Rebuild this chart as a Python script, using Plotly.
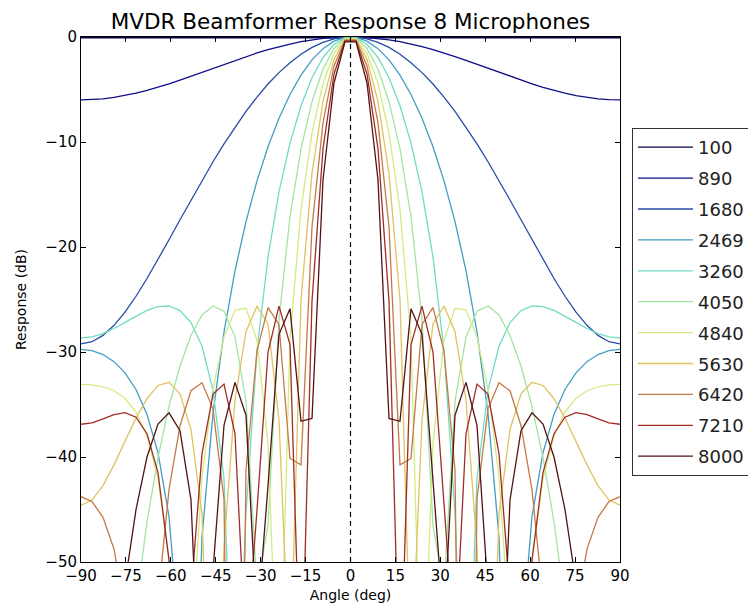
import plotly.graph_objects as go

# Steering angles (deg) at which the response was evaluated
ANGLES = [-90.0, -86.33, -82.65, -78.98, -75.31, -71.63, -67.96, -64.29, -60.61, -56.94,
          -53.27, -49.59, -45.92, -42.24, -38.57, -34.90, -31.22, -27.55, -23.88, -20.20,
          -16.53, -12.86, -9.18, -5.51, -1.84,
          1.84, 5.51, 9.18, 12.86, 16.53, 20.20, 23.88, 27.55, 31.22, 34.90,
          38.57, 42.24, 45.92, 49.59, 53.27, 56.94, 60.61, 64.29, 67.96, 71.63,
          75.31, 78.98, 82.65, 86.33, 90.0]

FREQ_LABELS = ["100", "890", "1680", "2469", "3260", "4050", "4840", "5630", "6420", "7210", "8000"]

# Response (dB) per frequency
R100 = [-0.07, -0.07, -0.07, -0.07, -0.07, -0.06, -0.06, -0.06, -0.05, -0.05, -0.05, -0.04, -0.04,
        -0.03, -0.03, -0.02, -0.02, -0.02, -0.01, -0.01, -0.01, 0.00, 0.00, 0.00, 0.00,
        0.00, 0.00, 0.00, 0.00, -0.01, -0.01, -0.01, -0.02, -0.02, -0.02, -0.03, -0.03, -0.04,
        -0.04, -0.05, -0.05, -0.05, -0.06, -0.06, -0.06, -0.07, -0.07, -0.07, -0.07, -0.07]
R890 = [-5.99, -5.97, -5.89, -5.76, -5.58, -5.35, -5.09, -4.79, -4.46, -4.11, -3.74, -3.36, -2.98,
        -2.60, -2.22, -1.86, -1.52, -1.21, -0.92, -0.67, -0.45, -0.28, -0.14, -0.05, -0.01,
        -0.01, -0.05, -0.14, -0.28, -0.45, -0.67, -0.92, -1.21, -1.52, -1.86, -2.22, -2.60, -2.98,
        -3.36, -3.74, -4.11, -4.46, -4.79, -5.09, -5.35, -5.58, -5.76, -5.89, -5.97, -5.99]
R1680 = [-29.23, -29.02, -28.42, -27.46, -26.20, -24.69, -23.00, -21.19, -19.31, -17.41, -15.52,
         -13.67, -11.88, -10.18, -8.58, -7.09, -5.72, -4.48, -3.39, -2.46, -1.64, -0.99, -0.51,
         -0.18, -0.02,
         -0.02, -0.18, -0.51, -0.99, -1.64, -2.46, -3.39, -4.48, -5.72, -7.09, -8.58, -10.18,
         -11.88, -13.67, -15.52, -17.41, -19.31, -21.19, -23.00, -24.69, -26.20, -27.46, -28.42,
         -29.02, -29.23]
R2469 = [-29.75, -29.87, -30.24, -30.92, -31.98, -33.57, -35.94, -39.59, -45.67, -58.4, -78.9,
         -47.62, -35.83, -28.10, -22.26, -17.58, -13.70, -10.45, -7.73, -5.47, -3.63, -2.18,
         -1.11, -0.40, -0.04,
         -0.04, -0.40, -1.11, -2.18, -3.63, -5.47, -7.73, -10.45, -13.70, -17.58, -22.26, -28.10,
         -35.83, -47.62, -78.9, -58.4, -45.67, -39.59, -35.94, -33.57, -31.98, -30.92, -30.24,
         -29.87, -29.75]
R3260 = [-28.66, -28.55, -28.24, -27.76, -27.18, -26.57, -26.03, -25.67, -25.62, -26.05, -27.20,
         -29.46, -33.66, -42.05, -71.3, -45.37, -29.83, -20.96, -14.76, -10.10, -6.55, -3.88,
         -1.95, -0.69, -0.08,
         -0.08, -0.69, -1.95, -3.88, -6.55, -10.10, -14.76, -20.96, -29.83, -45.37, -71.3, -42.05,
         -33.66, -29.46, -27.20, -26.05, -25.62, -25.67, -26.03, -26.57, -27.18, -27.76, -28.24,
         -28.55, -28.66]
R4050 = [-74.5, -77.6, -93.3, -86.5, -70.4, -54.12, -46.18, -40.05, -35.18, -31.34, -28.43,
         -26.48, -25.62, -26.11, -28.58, -34.67, -52.55, -46.51, -26.94, -17.11, -10.66, -6.16,
         -3.05, -1.08, -0.12,
         -0.12, -1.08, -3.05, -6.16, -10.66, -17.11, -26.94, -46.51, -52.55, -34.67, -28.58,
         -26.11, -25.62, -26.48, -28.43, -31.34, -35.18, -40.05, -46.18, -54.12, -70.4, -86.5,
         -93.3, -77.6, -74.5]
R4840 = [-33.09, -33.14, -33.31, -33.69, -34.41, -35.72, -38.02, -42.06, -49.83, -72.4, -58.6,
         -41.92, -33.53, -28.56, -26.01, -25.84, -28.89, -38.73, -66.8, -28.73, -16.44, -9.13,
         -4.43, -1.55, -0.17,
         -0.17, -1.55, -4.43, -9.13, -16.44, -28.73, -66.8, -38.73, -28.89, -25.84, -26.01,
         -28.56, -33.53, -41.92, -58.6, -72.4, -49.83, -42.06, -38.02, -35.72, -34.41, -33.69,
         -33.31, -33.14, -33.09]
R5630 = [-44.59, -44.10, -42.73, -40.75, -38.50, -36.30, -34.44, -33.19, -32.89, -33.99, -37.38,
         -45.46, -76.6, -48.53, -34.57, -28.06, -25.63, -27.31, -36.46, -61.3, -25.05, -12.99,
         -6.12, -2.11, -0.23,
         -0.23, -2.11, -6.12, -12.99, -25.05, -61.3, -36.46, -27.31, -25.63, -28.06, -34.57,
         -48.53, -76.6, -45.46, -37.38, -33.99, -32.89, -33.19, -34.44, -36.30, -38.50, -40.75,
         -42.73, -44.10, -44.59]
R6420 = [-43.78, -44.24, -45.75, -48.77, -54.66, -68.5, -79.2, -53.55, -43.11, -37.02, -33.69,
         -32.93, -35.41, -44.00, -123.9, -41.26, -29.90, -25.78, -27.38, -40.14, -40.75, -18.09,
         -8.16, -2.76, -0.30,
         -0.30, -2.76, -8.16, -18.09, -40.75, -40.14, -27.38, -25.78, -29.90, -41.26, -123.9,
         -44.00, -35.41, -32.93, -33.69, -37.02, -43.11, -53.55, -79.2, -68.5, -54.66, -48.77,
         -45.75, -44.24, -43.78]
R7210 = [-36.88, -36.74, -36.37, -35.96, -35.78, -36.21, -37.78, -41.48, -49.82, -81.8, -53.09,
         -39.68, -34.01, -33.06, -37.79, -58.9, -45.05, -30.03, -25.63, -29.29, -63.6, -25.17,
         -10.63, -3.52, -0.38,
         -0.38, -3.52, -10.63, -25.17, -63.6, -29.29, -25.63, -30.03, -45.05, -58.9, -37.79,
         -33.06, -34.01, -39.68, -53.09, -81.8, -49.82, -41.48, -37.78, -36.21, -35.78, -35.96,
         -36.37, -36.74, -36.88]
R8000 = [-120.0, -99.5, -75.6, -61.7, -52.04, -45.02, -40.00, -36.86, -35.79, -37.49, -44.08,
         -68.6, -50.85, -36.98, -32.89, -36.02, -56.19, -42.76, -28.32, -25.87, -36.60, -36.33,
         -13.60, -4.38, -0.46,
         -0.46, -4.38, -13.60, -36.33, -36.60, -25.87, -28.32, -42.76, -56.19, -36.02, -32.89,
         -36.98, -50.85, -68.6, -44.08, -37.49, -35.79, -36.86, -40.00, -45.02, -52.04, -61.7,
         -75.6, -99.5, -120.0]

RESPONSES = [R100, R890, R1680, R2469, R3260, R4050, R4840, R5630, R6420, R7210, R8000]

# jet-like colours (muted, as they appear in the reference)
COLORS = ["rgb(7,7,71)", "rgb(14,14,135)", "rgb(37,76,165)", "rgb(67,157,195)",
          "rgb(113,220,196)", "rgb(162,228,162)", "rgb(211,236,129)", "rgb(224,195,96)",
          "rgb(196,121,69)", "rgb(161,44,39)", "rgb(83,19,19)"]

LOOK_ANGLE = 0

FONT = "DejaVu Sans"

fig = go.Figure()
for name, resp, col in zip(FREQ_LABELS, RESPONSES, COLORS):
    fig.add_trace(go.Scatter(
        x=ANGLES, y=resp, mode="lines", name=name, legendgroup=name,
        line=dict(color=col, width=1.3),
    ))

fig.add_vline(x=LOOK_ANGLE, line=dict(color="black", width=1.2, dash="5px,4px"))

axis_common = dict(
    showline=True, linecolor="black", linewidth=1, mirror="ticks",
    ticks="inside", ticklen=5, tickcolor="black", showgrid=False, zeroline=False,
    tickfont=dict(family=FONT, size=15, color="black"),
)

# page has an 8px body margin, so plot box is placed 8px up/left of the target
L, T, PW, PH = 73, 29, 539, 525
fig.update_layout(
    width=756, height=608,
    margin=dict(l=L, r=756 - L - PW, t=T, b=608 - T - PH, autoexpand=False),
    paper_bgcolor="white", plot_bgcolor="white",
    font=dict(family=FONT, color="black"),
    title=dict(text="MVDR Beamformer Response 8 Microphones",
               x=0.5, xref="paper", xanchor="center",
               y=1 - 13 / 608, yref="container", yanchor="middle",
               font=dict(family=FONT, size=21.5, color="black")),
    xaxis=dict(range=[-90, 90], tick0=-90, dtick=15,
               title=dict(text="Angle (deg)", font=dict(family=FONT, size=14), standoff=6),
               **axis_common),
    yaxis=dict(range=[-50, 0], tick0=-50, dtick=10,
               title=dict(text="Response (dB)", font=dict(family=FONT, size=14), standoff=15),
               **axis_common),
    legend=dict(x=(624 - L) / PW, xanchor="left", y=(T + PH - 120) / PH, yanchor="top",
                bordercolor="#333", borderwidth=1, bgcolor="white",
                font=dict(family=FONT, size=18, color="#222"),
                tracegroupgap=4.5, itemwidth=55, traceorder="grouped"),
    showlegend=True,
)

fig.write_html("out.html")
